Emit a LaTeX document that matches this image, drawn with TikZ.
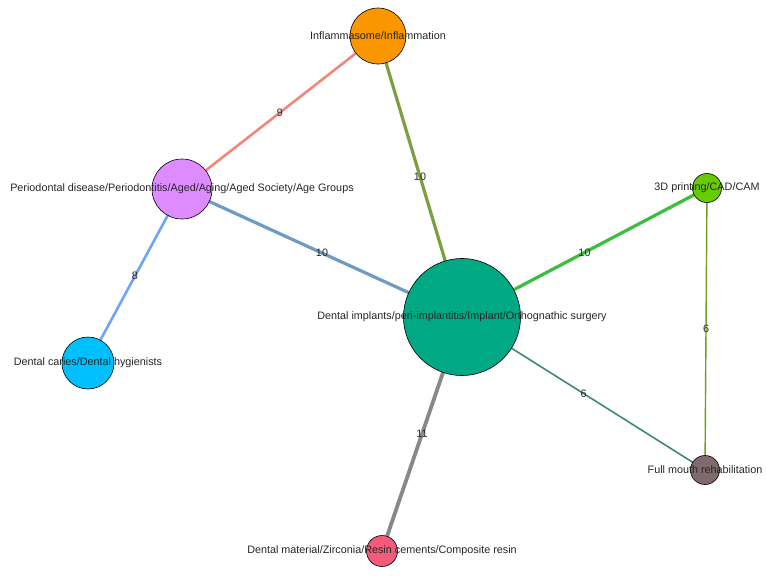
\documentclass[tikz,border=0pt]{standalone}
\usepackage{fontspec}
\setmainfont{Liberation Sans}
\usepackage{tikz}
\usetikzlibrary{backgrounds}

\definecolor{cInfl}{RGB}{250,150,0}
\definecolor{cPerio}{RGB}{222,139,255}
\definecolor{cCaries}{RGB}{0,191,255}
\definecolor{cImpl}{RGB}{0,168,132}
\definecolor{cPrint}{RGB}{102,204,0}
\definecolor{cMouth}{RGB}{127,107,107}
\definecolor{cMat}{RGB}{242,92,122}
\definecolor{eSalmon}{RGB}{240,136,122}
\definecolor{eOlive}{RGB}{122,160,64}
\definecolor{eSteel}{RGB}{110,155,195}
\definecolor{eSky}{RGB}{110,165,250}
\definecolor{eGreen}{RGB}{60,190,60}
\definecolor{eTeal}{RGB}{62,138,106}
\definecolor{eLime}{RGB}{110,160,30}
\definecolor{eGray}{RGB}{136,136,136}

\begin{document}
\begin{tikzpicture}[x=1pt,y=-1pt,
  topic/.style={circle,draw=black,line width=0.6pt,inner sep=0pt},
  topiclabel/.style={font=\fontsize{10.8}{12}\selectfont,text=black!85},
  link/.style={line width=#1},
  wt/.style={font=\fontsize{10.8}{12}\selectfont,text=black!85}]
\useasboundingbox (0,0) rectangle (766,576);
% topics
\node[topic,fill=cInfl,minimum size=56pt] (infl) at (378,36) {};
\node[topic,fill=cPerio,minimum size=60pt] (perio) at (182,189) {};
\node[topic,fill=cCaries,minimum size=52pt] (caries) at (88,363) {};
\node[topic,fill=cImpl,minimum size=117pt] (impl) at (462,317) {};
\node[topic,fill=cPrint,minimum size=29pt] (print) at (707,188) {};
\node[topic,fill=cMouth,minimum size=29pt] (mouth) at (705,470) {};
\node[topic,fill=cMat,minimum size=31pt] (mat) at (382,551) {};
% links, centre to centre
\begin{scope}[on background layer]
\draw[link=2.6pt,eSalmon] (infl.center) -- node[wt]{9} (perio.center);
\draw[link=3.2pt,eOlive] (infl.center) -- node[wt]{10} (impl.center);
\draw[link=3.2pt,eSteel] (perio.center) -- node[wt]{10} (impl.center);
\draw[link=2.6pt,eSky] (perio.center) -- node[wt]{8} (caries.center);
\draw[link=3.2pt,eGreen] (impl.center) -- node[wt]{10} (print.center);
\draw[link=1.6pt,eTeal] (impl.center) -- node[wt]{6} (mouth.center);
\draw[link=1.4pt,eLime] (print.center) -- node[wt]{6} (mouth.center);
\draw[link=3.8pt,eGray] (impl.center) -- node[wt]{11} (mat.center);
\end{scope}
% names
\node[topiclabel] at (infl) {Inflammasome/Inflammation};
\node[topiclabel] at (perio) {Periodontal disease/Periodontitis/Aged/Aging/Aged Society/Age Groups};
\node[topiclabel] at (caries) {Dental caries/Dental hygienists};
\node[topiclabel] at (impl) {Dental implants/peri-implantitis/Implant/Orthognathic surgery};
\node[topiclabel] at (print) {3D printing/CAD/CAM};
\node[topiclabel] at (mouth) {Full mouth rehabilitation};
\node[topiclabel] at (mat) {Dental material/Zirconia/Resin cements/Composite resin};
\end{tikzpicture}
\end{document}
